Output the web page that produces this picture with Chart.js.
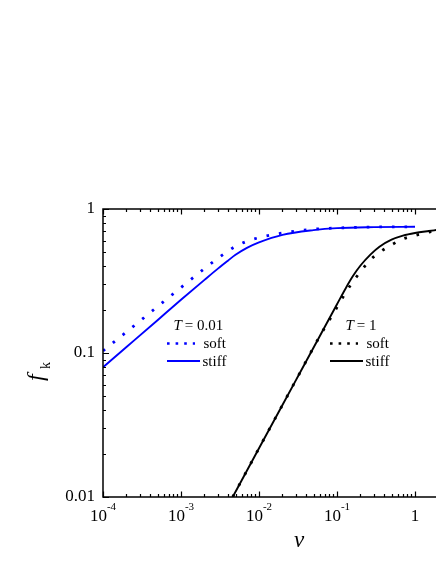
<!DOCTYPE html>
<html>
<head>
<meta charset="utf-8">
<script src="https://cdn.jsdelivr.net/npm/chart.js@4/dist/chart.umd.min.js"></script>
<style>
html,body{margin:0;padding:0;background:#fff;}
canvas{display:block;}
</style>
</head>
<body>
<canvas id="c" width="436" height="564"></canvas>
<script>
// ---- data (log-log) ----
const xBlue      = [1e-4, 2e-4, 5e-4, 1e-3, 2e-3, 3e-3, 4e-3, 5e-3, 7e-3, 1e-2, 2e-2, 5e-2, 0.1, 0.3, 1];
const blueSoft   = [0.1035, 0.140, 0.210, 0.285, 0.386, 0.457, 0.510, 0.550, 0.597, 0.632, 0.682, 0.724, 0.738, 0.750, 0.753];
const blueStiff  = [0.0795, 0.110, 0.169, 0.234, 0.322, 0.387, 0.438, 0.481, 0.537, 0.586, 0.661, 0.713, 0.736, 0.748, 0.753];
const xBlack     = [0.0046, 0.01, 0.03, 0.06, 0.1, 0.13, 0.16, 0.2, 0.27, 0.35, 0.5, 0.7, 1, 1.5, 1.9];
const blackSoft  = [0.01, 0.0218, 0.0653, 0.1306, 0.2075, 0.264, 0.313, 0.367, 0.445, 0.500, 0.564, 0.620, 0.655, 0.692, 0.708];
const blackStiff = [0.01, 0.0218, 0.0653, 0.1306, 0.218, 0.283, 0.342, 0.405, 0.484, 0.547, 0.612, 0.653, 0.681, 0.703, 0.715];
const xTickVals  = [1e-4, 1e-3, 1e-2, 1e-1, 1];
const xTickBase  = ['10', '10', '10', '10', '1'];
const xTickExp   = ['-4', '-3', '-2', '-1', ''];
const yTickVals  = [0.01, 0.1, 1];
const yTickLabels= ['0.01', '0.1', '1'];
const legendTitles = ['0.01', '1'];
const legendSeries = ['soft', 'stiff'];

const SERIF = '"Liberation Serif", "Times New Roman", serif';
const BLUE = '#0000ff';

function pts(xs, ys){ return xs.map((x,i)=>({x:x, y:ys[i]})); }

const axesPlugin = {
  id: 'axesPlugin',
  afterDraw(chart){
    const ctx = chart.ctx;
    const xs = chart.scales.x, ys = chart.scales.y;
    const a = chart.chartArea;
    ctx.save();
    ctx.strokeStyle = '#000';
    ctx.fillStyle = '#000';
    ctx.lineWidth = 1.5;
    // axis lines: left, bottom, top
    ctx.beginPath();
    ctx.moveTo(a.left, a.top); ctx.lineTo(a.left, a.bottom);
    ctx.moveTo(a.left - 0.75, a.bottom); ctx.lineTo(a.right + 2, a.bottom);
    ctx.moveTo(a.left - 0.75, a.top); ctx.lineTo(a.right + 2, a.top);
    ctx.stroke();
    // x ticks
    ctx.lineWidth = 1.2;
    ctx.beginPath();
    for (let d = -4; d <= 0; d++) {
      for (let m = 1; m <= 9; m++) {
        const v = m * Math.pow(10, d);
        if (v > xs.max) continue;
        const px = Math.round(xs.getPixelForValue(v)) + 0.5;
        const len = (m === 1) ? 5.5 : 3;
        ctx.moveTo(px, a.bottom); ctx.lineTo(px, a.bottom - len);
        ctx.moveTo(px, a.top); ctx.lineTo(px, a.top + len);
      }
    }
    // y ticks
    for (let d = -2; d <= 0; d++) {
      for (let m = 1; m <= 9; m++) {
        const v = m * Math.pow(10, d);
        if (v > ys.max + 1e-9) continue;
        const py = Math.round(ys.getPixelForValue(v)) + 0.5;
        const len = (m === 1) ? 6 : 3;
        ctx.moveTo(a.left, py); ctx.lineTo(a.left + len, py);
      }
    }
    ctx.stroke();

    // x tick labels
    ctx.textBaseline = 'alphabetic';
    ctx.textAlign = 'left';
    xTickVals.forEach((v,i)=>{
      const cx = xs.getPixelForValue(v);
      ctx.font = '17px ' + SERIF;
      const w1 = ctx.measureText(xTickBase[i]).width;
      ctx.font = '11px ' + SERIF;
      const w2 = xTickExp[i] ? ctx.measureText(xTickExp[i]).width : 0;
      const start = cx - (w1 + w2) / 2;
      ctx.font = '17px ' + SERIF;
      ctx.fillText(xTickBase[i], start, 521);
      if (xTickExp[i]) {
        ctx.font = '11px ' + SERIF;
        ctx.fillText(xTickExp[i], start + w1, 510);
      }
    });
    // y tick labels
    ctx.font = '17px ' + SERIF;
    ctx.textAlign = 'right';
    ctx.textBaseline = 'middle';
    yTickVals.forEach((v,i)=>{
      ctx.fillText(yTickLabels[i], 95, ys.getPixelForValue(v));
    });

    // x title
    ctx.textAlign = 'center';
    ctx.textBaseline = 'alphabetic';
    ctx.font = 'italic 23px ' + SERIF;
    ctx.fillText('\u03bd', 299, 547);

    // y title (rotated): f with subscript k
    ctx.save();
    ctx.translate(43, 381);
    ctx.rotate(-Math.PI/2);
    ctx.textAlign = 'left';
    ctx.font = 'italic 24px ' + SERIF;
    ctx.fillText('f', 0, 0);
    ctx.font = '14px ' + SERIF;
    ctx.fillText('k', 12, 7);
    ctx.restore();

    // legends
    const legends = [
      {tx: 173.5, color: BLUE, lx0: 167, lx1: 200, text: legendTitles[0]},
      {tx: 345.5, color: '#000', lx0: 330, lx1: 363, text: legendTitles[1]}
    ];
    legends.forEach(L=>{
      ctx.textAlign = 'left';
      ctx.textBaseline = 'alphabetic';
      ctx.fillStyle = '#000';
      ctx.font = 'italic 15px ' + SERIF;
      ctx.fillText('T', L.tx, 330);
      const wT = ctx.measureText('T').width;
      ctx.font = '15px ' + SERIF;
      ctx.fillText('= ' + L.text, L.tx + wT + 3, 330);
      // soft sample (dotted)
      ctx.strokeStyle = L.color;
      ctx.lineWidth = 2.6;
      ctx.setLineDash([2.6, 6]);
      ctx.beginPath();
      ctx.moveTo(L.lx0, 343.5); ctx.lineTo(L.lx0 + 28, 343.5);
      ctx.stroke();
      ctx.setLineDash([]);
      // stiff sample (solid)
      ctx.lineWidth = 1.8;
      ctx.beginPath();
      ctx.moveTo(L.lx0, 361); ctx.lineTo(L.lx1, 361);
      ctx.stroke();
      ctx.font = '15px ' + SERIF;
      ctx.fillText(legendSeries[0], L.lx1 + 3.5, 347.5);
      ctx.fillText(legendSeries[1], L.lx1 + 2.5, 366);
    });
    ctx.restore();
  }
};

new Chart(document.getElementById('c'), {
  type: 'line',
  data: {
    datasets: [
      {label: 'T = 0.01 soft', data: pts(xBlue, blueSoft), borderColor: BLUE, borderWidth: 2.8, borderDash: [2.6, 10], borderCapStyle: 'butt', pointRadius: 0, fill: false, cubicInterpolationMode: 'monotone'},
      {label: 'T = 0.01 stiff', data: pts(xBlue, blueStiff), borderColor: BLUE, borderWidth: 1.9, pointRadius: 0, fill: false, cubicInterpolationMode: 'monotone'},
      {label: 'T = 1 soft', data: pts(xBlack, blackSoft), borderColor: '#000', borderWidth: 2.8, borderDash: [2.6, 10], borderCapStyle: 'butt', pointRadius: 0, fill: false, cubicInterpolationMode: 'monotone'},
      {label: 'T = 1 stiff', data: pts(xBlack, blackStiff), borderColor: '#000', borderWidth: 1.9, pointRadius: 0, fill: false, cubicInterpolationMode: 'monotone'}
    ]
  },
  options: {
    responsive: false,
    animation: false,
    events: [],
    layout: {padding: {left: 103, top: 209, right: 0, bottom: 67}},
    plugins: {legend: {display: false}, tooltip: {enabled: false}},
    scales: {
      x: {type: 'logarithmic', min: 1e-4, max: 1.858, display: false},
      y: {type: 'logarithmic', min: 0.01, max: 1, display: false}
    }
  },
  plugins: [axesPlugin]
});
</script>
</body>
</html>
